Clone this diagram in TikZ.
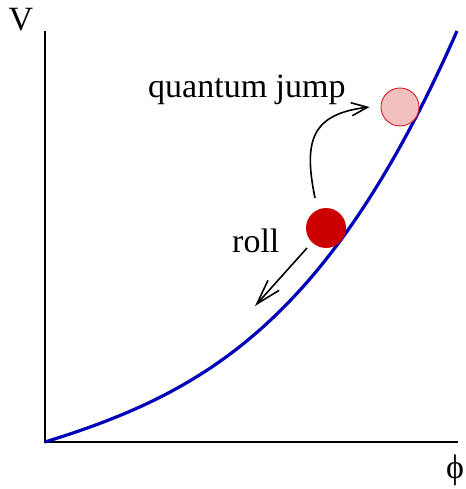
\documentclass[tikz,border=0pt]{standalone}
\usepackage{fontspec}
\setmainfont{Liberation Serif}
\usepackage{xcolor}
\usetikzlibrary{arrows.meta,positioning,calc}
\definecolor{potblue}{RGB}{0,0,185}
\definecolor{ballred}{RGB}{205,0,0}
\definecolor{ghostpink}{RGB}{243,192,192}
\definecolor{ghostred}{RGB}{215,30,30}
\tikzset{
  axisline/.style={line width=1.8pt,black},
  potline/.style={line width=3.2pt,potblue},
  ball/.style={circle,fill=ballred,minimum size=40pt,inner sep=0pt},
  ghostball/.style={circle,fill=ghostpink,draw=ghostred,line width=0.9pt,minimum size=38pt,inner sep=0pt},
  lab/.style={font=\fontsize{34}{40}\selectfont,inner sep=0pt},
  jumparrow/.style={-{Straight Barb[length=16pt,width=13pt,line width=1.6pt]},line width=1.6pt},
  rollarrow/.style={-{Straight Barb[length=25pt,width=15pt,line width=1.6pt]},line width=1.6pt}
}
\begin{document}
\begin{tikzpicture}[x=1pt,y=-1pt]
  \useasboundingbox (0,0) rectangle (465,489);
  % axes
  \coordinate (origin) at (45,442);
  \coordinate (vtop) at (45,31);
  \coordinate (phiend) at (458,442);
  \draw[axisline] (vtop) -- (origin) -- (phiend);
  \node[lab] (vlab) at (21,20) {V};
  \node[lab] (philab) at (455,470) {ϕ};

  % potential
  \coordinate (potend) at (457,31);
  \draw[potline] (origin) .. controls (203,393) and (328,324) .. (potend);

  % balls
  \node[ball] (now) at (326,228) {};
  \node[ghostball] (jumped) at (400,107) {};

  % labels
  \node[lab,anchor=base west] (jumptext) at (148,98) {quantum jump};
  \node[lab,anchor=base west] (rolltext) at (232,252) {roll};

  % arrows
  \coordinate (jumpstart) at (315,198);
  \coordinate (jumpend) at ($(jumped.west)+(-11,0)$);
  \draw[jumparrow] (jumpstart) .. controls (303,140) and (312,114) .. (jumpend);
  \coordinate (rollstart) at (307,248);
  \coordinate (rollend) at (255,306);
  \draw[rollarrow] (rollstart) -- (rollend);
\end{tikzpicture}
\end{document}
